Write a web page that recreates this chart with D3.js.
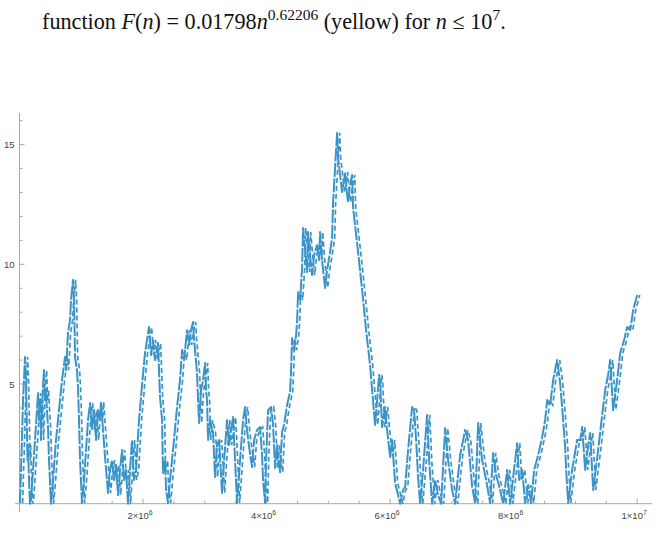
<!DOCTYPE html>
<html>
<head>
<meta charset="utf-8">
<script src="https://cdn.jsdelivr.net/npm/d3@7"></script>
<style>
  body { margin: 0; background: #fff; }
  svg { display: block; }
</style>
</head>
<body>
<svg width="657" height="546"></svg>
<script>
// n (in millions) and the plotted deviation
const nValues = [
  0.008, 0.040, 0.057, 0.073, 0.089, 0.105, 0.121, 0.130, 0.138, 0.154, 0.170, 0.186, 0.219, 0.251, 0.283, 0.300, 0.316, 0.332, 0.348, 0.364,
  0.381, 0.397, 0.413, 0.429, 0.445, 0.462, 0.478, 0.510, 0.543, 0.591, 0.640, 0.688, 0.737, 0.753, 0.785, 0.818, 0.834, 0.850, 0.866, 0.883,
  0.899, 0.931, 0.947, 0.964, 0.980, 1.012, 1.045, 1.077, 1.109, 1.142, 1.174, 1.206, 1.239, 1.271, 1.304, 1.320, 1.352, 1.385, 1.433, 1.466,
  1.498, 1.530, 1.563, 1.595, 1.628, 1.660, 1.692, 1.725, 1.757, 1.789, 1.822, 1.854, 1.887, 1.935, 1.984, 2.032, 2.065, 2.097,
  2.130, 2.162, 2.194, 2.227, 2.243, 2.259, 2.275, 2.308, 2.324, 2.356, 2.373, 2.405, 2.437, 2.486, 2.551, 2.599, 2.632, 2.664, 2.713, 2.745,
  2.777, 2.810, 2.826, 2.842, 2.874, 2.891, 2.907, 2.939, 2.972, 3.004, 3.020, 3.036, 3.053, 3.085, 3.134, 3.166, 3.198, 3.231, 3.279, 3.312,
  3.360, 3.393, 3.425, 3.457, 3.490, 3.522, 3.571, 3.619, 3.652, 3.684, 3.717, 3.765, 3.798, 3.846, 3.895, 3.927, 3.943, 3.976, 3.992, 4.024,
  4.073, 4.105,
  4.138, 4.170, 4.202, 4.219, 4.251, 4.283, 4.332, 4.381, 4.397, 4.413, 4.445, 4.478, 4.494, 4.510, 4.543, 4.575, 4.591, 4.623, 4.656, 4.672,
  4.704, 4.737, 4.769, 4.818, 4.850, 4.866, 4.899, 4.947, 4.980, 5.028, 5.061, 5.077, 5.109, 5.142, 5.158, 5.190, 5.223, 5.255, 5.271, 5.304,
  5.320, 5.352, 5.385, 5.401, 5.482, 5.547, 5.611, 5.676, 5.709, 5.757, 5.790, 5.822, 5.838,
  5.870, 5.919, 5.951, 6.000, 6.032, 6.081, 6.130, 6.162, 6.211, 6.243, 6.291, 6.356, 6.389, 6.421, 6.453, 6.486, 6.534, 6.599, 6.632, 6.680,
  6.729, 6.777, 6.826, 6.891, 6.939, 7.004, 7.053, 7.134, 7.215, 7.263, 7.328, 7.377, 7.425, 7.490, 7.555, 7.619, 7.668, 7.717, 7.781, 7.830,
  7.895, 7.943, 8.024,
  8.057, 8.089, 8.138, 8.186, 8.235, 8.283, 8.332, 8.397, 8.462, 8.510, 8.543, 8.591, 8.640, 8.704, 8.753, 8.785, 8.834, 8.850, 8.883, 8.947,
  9.028, 9.077, 9.109, 9.158, 9.207, 9.239, 9.288, 9.368, 9.433, 9.482, 9.530, 9.563, 9.611, 9.676, 9.725, 9.789, 9.838, 9.887, 9.935, 10.000
];
const yValues = [
  0.03, 2.66, 4.33, 5.16, 6.13, 5.16, 3.08, 1.82, 2.45, 0.99, 0.00, 0.15, 1.41, 2.66, 3.91, 4.62, 3.49, 4.33, 2.66, 3.91,
  4.96, 5.58, 4.33, 4.75, 3.91, 3.20, 1.82, 0.00, 0.99, 2.66, 3.91, 5.16, 6.13, 5.58, 7.13, 7.67, 8.51, 8.93, 9.35, 8.51,
  6.13, 5.58, 4.87, 3.49, 1.82, 0.03, 0.99, 2.24, 3.49, 4.21, 3.08, 3.91, 2.66, 3.91, 3.49, 4.25, 3.08, 1.95, 0.45, 1.41,
  1.82, 0.99, 1.62, 0.36, 1.41, 2.24, 0.99, 1.41, 0.00, 1.41, 2.66, 0.99, 1.41, 3.49, 4.96, 6.30, 6.84, 7.38,
  6.21, 6.84, 6.00, 6.42, 6.71, 5.58, 4.46, 3.49, 1.28, 1.82, 0.57, 0.03, 0.99, 2.24, 4.04, 5.17, 6.42, 6.00, 7.25, 6.63,
  7.25, 7.59, 6.84, 6.42, 5.46, 4.33, 3.37, 4.75, 5.17, 5.88, 4.75, 4.33, 2.66, 3.49, 2.95, 1.12, 2.45, 2.66, 0.45, 1.82,
  3.49, 2.45, 3.08, 3.62, 1.82, 0.03, 1.82, 3.49, 4.04, 3.08, 2.37, 1.53, 2.66, 3.08, 3.20, 2.03, 0.99, 0.03, 1.82, 3.91,
  4.04, 3.29,
  1.49, 2.45, 1.62, 1.32, 2.99, 3.29, 4.12, 4.67, 5.58, 6.92, 6.42, 7.05, 7.59, 8.84, 8.51, 9.85, 11.52, 10.60, 9.68, 11.35,
  10.39, 9.55, 10.39, 10.80, 10.18, 11.35, 10.18, 9.01, 9.76, 10.51, 11.10, 12.60, 14.02, 15.49, 14.44, 13.73, 13.02, 13.52, 13.85, 12.90,
  12.60, 13.31, 13.73, 12.35, 10.51, 8.93, 7.26, 5.79, 4.75, 3.29, 4.33, 5.38, 5.08,
  3.20, 4.04, 3.08, 1.95, 2.66, 0.86, 0.36, 0.00, 0.57, 0.70, 2.24, 4.04, 3.91, 2.66, 1.12, 0.00, 1.41, 3.71, 1.82, 0.00,
  0.99, 0.36, 0.00, 3.16, 1.82, 0.57, 0.00, 2.03, 3.08, 2.66, 0.70, 0.00, 3.37, 1.82, 0.99, 0.03, 2.12, 1.20, 0.57, 0.00,
  1.41, 0.00, 1.82,
  2.53, 0.99, 1.41, 0.03, 0.78, 0.03, 1.41, 2.03, 2.78, 3.50, 4.33, 4.12, 5.17, 6.00, 5.04, 4.04, 2.37, 1.41, 0.03, 1.41,
  2.66, 2.66, 3.20, 1.41, 2.45, 2.95, 0.57, 2.24, 3.70, 4.75, 5.38, 6.00, 3.91, 5.17, 6.30, 6.84, 7.38, 7.25, 8.09, 8.72
];

const xTicks = [2, 4, 6, 8, 10];
const xTickLabels = ["2\u00d710", "4\u00d710", "6\u00d710", "8\u00d710", "1\u00d710"];
const xTickExps = ["6", "6", "6", "6", "7"];
const yTicks = [5, 10, 15];

const svg = d3.select('svg');
const blue = '#3b94c8';
const axisColor = '#a8a8a8';

// caption line above the chart
const cap = svg.append('text')
  .attr('x', 42).attr('y', 29)
  .attr('font-family', '"Liberation Serif", "DejaVu Serif", serif')
  .attr('font-size', 22.2)
  .attr('fill', '#111');
cap.append('tspan').text('function ');
cap.append('tspan').attr('font-style', 'italic').text('F');
cap.append('tspan').text('(');
cap.append('tspan').attr('font-style', 'italic').text('n');
cap.append('tspan').text(') = 0.01798');
cap.append('tspan').attr('font-style', 'italic').text('n');
cap.append('tspan').attr('dy', -9).attr('font-size', 15.5).text('0.62206');
cap.append('tspan').attr('dy', 9).text(' (yellow) for ');
cap.append('tspan').attr('font-style', 'italic').text('n');
cap.append('tspan').text(' \u2264 10');
cap.append('tspan').attr('dy', -9).attr('font-size', 15.5).text('7');
cap.append('tspan').attr('dy', 9).text('.');

// scales
const x = d3.scaleLinear().domain([0, 10.24]).range([19.5, 652]);
const y = d3.scaleLinear().domain([0, 16.3]).range([503.7, 113.5]);

// x axis (ticks pointing up)
const xAxis = svg.append('g').attr('transform', 'translate(0,503.7)');
xAxis.append('line').attr('x1', 15).attr('x2', 652).attr('stroke', axisColor);
const xMinor = d3.range(0.5, 10.01, 0.5).filter(v => xTicks.indexOf(v) < 0);
xAxis.selectAll('.minor').data(xMinor).enter().append('line')
  .attr('x1', d => x(d)).attr('x2', d => x(d))
  .attr('y1', 0).attr('y2', -3).attr('stroke', axisColor);
xAxis.selectAll('.major').data(xTicks).enter().append('line')
  .attr('x1', d => x(d)).attr('x2', d => x(d))
  .attr('y1', 0).attr('y2', -5).attr('stroke', axisColor);
const xl = xAxis.selectAll('.lab').data(xTicks).enter().append('text')
  .attr('x', d => x(d) - 3).attr('y', 15)
  .attr('text-anchor', 'middle')
  .attr('font-family', '"Liberation Sans", Arial, sans-serif')
  .attr('font-size', 9.5).attr('fill', '#444');
xl.append('tspan').text((d, i) => xTickLabels[i]);
xl.append('tspan').attr('dy', -4).attr('font-size', 7).text((d, i) => xTickExps[i]);

// y axis (ticks pointing right)
const yAxis = svg.append('g').attr('transform', 'translate(19.5,0)');
yAxis.append('line').attr('y1', 113).attr('y2', 512).attr('stroke', axisColor);
const yMinor = d3.range(1, 16.1, 1).filter(v => yTicks.indexOf(v) < 0);
yAxis.selectAll('.minor').data(yMinor).enter().append('line')
  .attr('y1', d => y(d)).attr('y2', d => y(d))
  .attr('x1', 0).attr('x2', 3).attr('stroke', axisColor);
yAxis.selectAll('.major').data(yTicks).enter().append('line')
  .attr('y1', d => y(d)).attr('y2', d => y(d))
  .attr('x1', 0).attr('x2', 5).attr('stroke', axisColor);
yAxis.selectAll('.lab').data(yTicks).enter().append('text')
  .attr('x', -5).attr('y', d => y(d) + 3.5)
  .attr('text-anchor', 'end')
  .attr('font-family', '"Liberation Sans", Arial, sans-serif')
  .attr('font-size', 9.5).attr('fill', '#444')
  .text(d => d);

// the data: main strand plus a dashed neighbouring strand (ladder look)
const pts = nValues.map((n, i) => [n, yValues[i]]);
const line = d3.line().x(d => x(d[0])).y(d => y(d[1]));
svg.append('path')
  .datum(pts)
  .attr('d', line)
  .attr('fill', 'none')
  .attr('stroke', blue)
  .attr('stroke-width', 2)
  .attr('stroke-dasharray', '14 1.5')
  .attr('stroke-linejoin', 'round');
svg.append('path')
  .datum(pts)
  .attr('d', line)
  .attr('transform', 'translate(2.6,0)')
  .attr('fill', 'none')
  .attr('stroke', blue)
  .attr('stroke-width', 1.7)
  .attr('stroke-dasharray', '5 3');
</script>
</body>
</html>
